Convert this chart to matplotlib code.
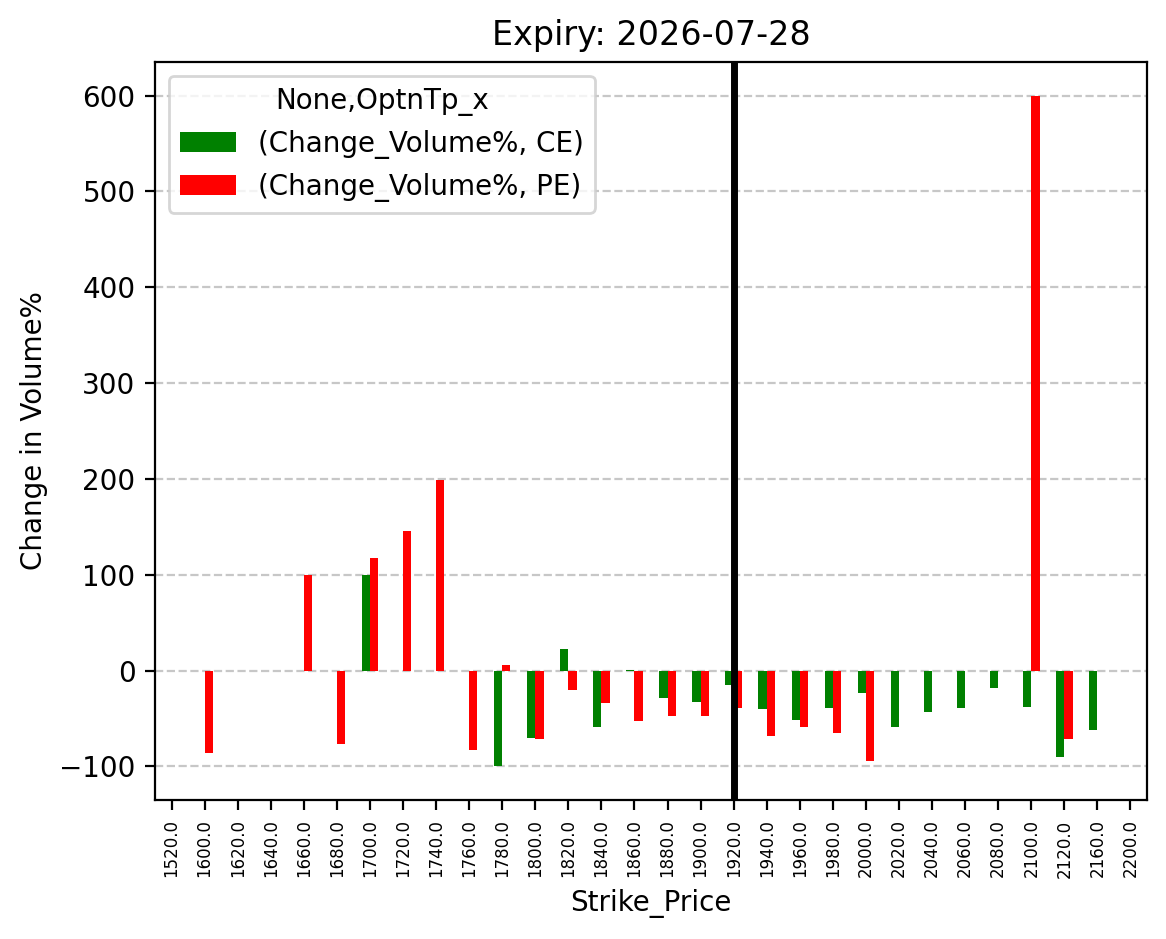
import numpy as np
import matplotlib
matplotlib.use("Agg")
import matplotlib.pyplot as plt

strikes = [1520, 1600, 1620, 1640, 1660, 1680, 1700, 1720, 1740, 1760, 1780, 1800,
           1820, 1840, 1860, 1880, 1900, 1920, 1940, 1960, 1980, 2000, 2020, 2040,
           2060, 2080, 2100, 2120, 2160, 2200]
nan = np.nan
ce_values = [nan, nan, nan, nan, nan, nan, 100, nan, nan, nan, -100, -70,
             23, -59, 0.5, -29, -33, -15, -40, -52, -39, -23, -59, -43,
             -39, -18, -38, -90, -62, nan]
pe_values = [nan, -86, nan, nan, 100, -77, 118, 146, 199, -83, 6, -71,
             -20, -34, -53, -47, -47, -39, -68, -59, -65, -94, nan, nan,
             nan, nan, 600, -71, nan, nan]
spot_strike = 1920
tick_labels = [f"{s:.1f}" for s in strikes]

fig = plt.figure(figsize=(1166 / 200, 939 / 200), dpi=200)
ax = fig.add_axes([155 / 1166, (939 - 800) / 939, 992 / 1166, 738 / 939])

x = np.arange(len(strikes))
w = 0.25
ax.bar(x - w / 2, ce_values, width=w, color="green", label="(Change_Volume%, CE)")
ax.bar(x + w / 2, pe_values, width=w, color="red", label="(Change_Volume%, PE)")
ax.set_xticks(x)
ax.set_xticklabels(tick_labels, rotation=90, fontsize=6)
ax.set_xlim(-0.5, len(strikes) - 0.5)

ax.axvline(x=strikes.index(spot_strike), color="black", linewidth=2.5)
ax.grid(axis="y", linestyle="--", alpha=0.7)
ax.set_axisbelow(True)

ax.set_title("Expiry: 2026-07-28")
ax.set_xlabel("Strike_Price")
ax.set_ylabel("Change in Volume%")
ax.legend(title="None,OptnTp_x", loc="upper left")

fig.savefig("out.png", dpi=200)
